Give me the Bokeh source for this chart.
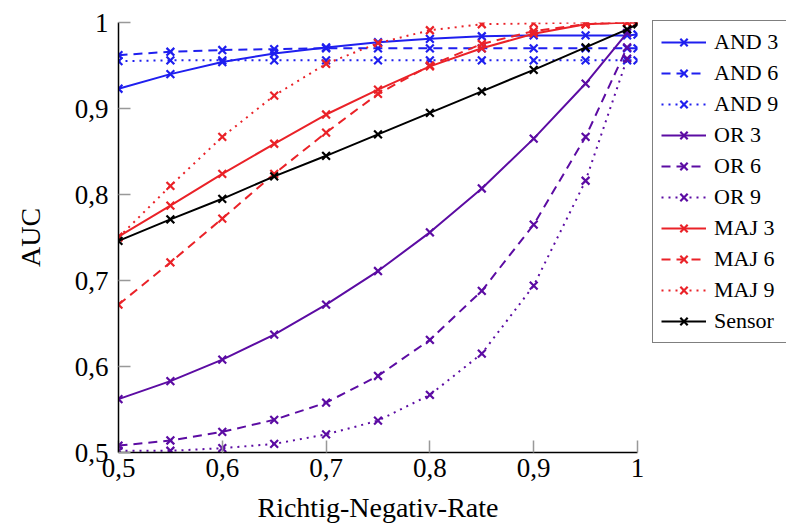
from bokeh.plotting import figure
from bokeh.models import Range1d, FixedTicker, Legend
from bokeh.embed import file_html
from bokeh.resources import INLINE

xs = [0.5, 0.55, 0.6, 0.65, 0.7, 0.75, 0.8, 0.85, 0.9, 0.95, 0.99, 1.0]
xs_or = xs[:11]

and3 = [0.923, 0.940, 0.954, 0.964, 0.971, 0.977, 0.981, 0.984, 0.985, 0.985, 0.985, 0.986]
and6 = [0.962, 0.966, 0.968, 0.969, 0.970, 0.970, 0.970, 0.970, 0.970, 0.970, 0.970, 0.970]
and9 = [0.955, 0.956, 0.956, 0.956, 0.956, 0.956, 0.956, 0.956, 0.956, 0.956, 0.956, 0.956]
or3 = [0.562, 0.583, 0.608, 0.637, 0.672, 0.711, 0.756, 0.807, 0.865, 0.929, 0.988]
or6 = [0.508, 0.514, 0.524, 0.538, 0.558, 0.589, 0.631, 0.688, 0.765, 0.867, 0.971]
or9 = [0.502, 0.502, 0.505, 0.510, 0.521, 0.537, 0.567, 0.615, 0.694, 0.816, 0.958]
maj3 = [0.751, 0.787, 0.824, 0.859, 0.893, 0.922, 0.949, 0.970, 0.987, 0.998, 1.0, 1.0]
maj6 = [0.672, 0.721, 0.772, 0.824, 0.872, 0.917, 0.950, 0.975, 0.990, 0.998, 1.0, 1.0]
maj9 = [0.750, 0.810, 0.867, 0.915, 0.952, 0.976, 0.991, 0.998, 0.999, 1.0, 1.0, 1.0]
sensor = [0.746, 0.771, 0.795, 0.821, 0.845, 0.870, 0.895, 0.920, 0.945, 0.971, 0.992, 0.998]

ticks = [0.5, 0.6, 0.7, 0.8, 0.9, 1.0]
tick_labels = ["0,5", "0,6", "0,7", "0,8", "0,9", "1"]

BLUE = "#1f1fef"
PURPLE = "#5c0ca3"
RED = "#ea2228"
BLACK = "#000000"

series = [
    ("AND 3", xs, and3, BLUE, "solid"),
    ("AND 6", xs, and6, BLUE, "9 6"),
    ("AND 9", xs, and9, BLUE, "2 5"),
    ("OR 3", xs_or, or3, PURPLE, "solid"),
    ("OR 6", xs_or, or6, PURPLE, "9 6"),
    ("OR 9", xs_or, or9, PURPLE, "2 5"),
    ("MAJ 3", xs, maj3, RED, "solid"),
    ("MAJ 6", xs, maj6, RED, "9 6"),
    ("MAJ 9", xs, maj9, RED, "2 5"),
    ("Sensor", xs, sensor, BLACK, "solid"),
]

FONT = "Liberation Serif"

p = figure(frame_width=519, frame_height=430, output_backend="svg", toolbar_location=None,
           x_range=Range1d(0.5, 1.0), y_range=Range1d(0.5, 1.0),
           min_border_left=118, min_border_top=22, min_border_bottom=77,
           min_border_right=0)
p.outline_line_color = None
p.xgrid.grid_line_color = None
p.ygrid.grid_line_color = None

items = []
for name, x, y, col, dash in series:
    r1 = p.line(x, y, line_color=col, line_width=2, line_dash=dash)
    r2 = p.scatter(x, y, marker="x", size=11, line_color=col, line_width=2.2)
    items.append((name, [r1, r2]))

for ax in (p.xaxis, p.yaxis):
    ax.ticker = FixedTicker(ticks=ticks)
    ax.major_label_overrides = {t: l for t, l in zip(ticks, tick_labels)}
    ax.minor_tick_line_color = None
    ax.major_tick_in = 12
    ax.major_tick_out = 0
    ax.major_tick_line_color = "#999999"
    ax.major_tick_line_width = 1.5
    ax.axis_line_color = "black"
    ax.axis_line_width = 1.5
    ax.major_label_text_font = FONT
    ax.major_label_text_font_size = "27px"
    ax.major_label_text_color = "black"
    ax.axis_label_text_font = FONT
    ax.axis_label_text_font_size = "28px"
    ax.axis_label_text_font_style = "normal"
    ax.axis_label_text_color = "black"

p.xaxis.axis_label = "Richtig-Negativ-Rate"
p.yaxis.axis_label = "AUC"
p.xaxis.major_label_standoff = 6
p.yaxis.major_label_standoff = 10
p.xaxis.axis_label_standoff = 12
p.yaxis.axis_label_standoff = 26

legend = Legend(items=items, location=(15, 109))
legend.label_text_font = FONT
legend.label_text_font_size = "22px"
legend.label_text_color = "black"
legend.glyph_width = 45
legend.glyph_height = 26
legend.label_height = 26
legend.spacing = 5
legend.padding = 8
legend.margin = 6
legend.label_standoff = 8
legend.border_line_color = "black"
legend.border_line_width = 1
legend.background_fill_alpha = 1
p.add_layout(legend, "right")

open("out.html", "w").write(file_html(p, INLINE))
